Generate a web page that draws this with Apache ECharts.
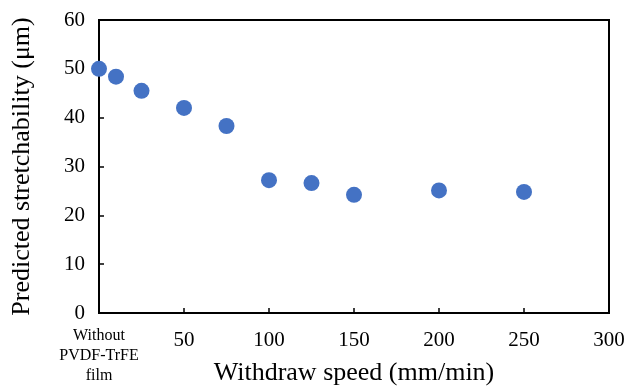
<!DOCTYPE html>
<html><head><meta charset="utf-8">
<script src="https://cdn.jsdelivr.net/npm/echarts@6/dist/echarts.min.js"></script>
<style>html,body{margin:0;padding:0;background:#fff}#c{width:629px;height:389px}</style>
</head><body><div id="c"></div>
<script>
const speeds = [0, 10, 25, 50, 75, 100, 125, 150, 200, 250];
const stretchability = [50.0, 48.4, 45.5, 42.0, 38.3, 27.2, 26.6, 24.2, 25.1, 24.8];
const xTickValues = [0, 50, 100, 150, 200, 250, 300];
const yTickValues = [0, 10, 20, 30, 40, 50, 60];
const zeroLabel = ['Without', 'PVDF-TrFE', 'film'];
const xTitle = 'Withdraw speed (mm/min)';
const yTitle = 'Predicted stretchability (\u03bcm)';

const font = 'Liberation Serif, Times New Roman, serif';
const chart = echarts.init(document.getElementById('c'));
chart.setOption({
  animation: false,
  backgroundColor: '#fff',
  grid: { left: 99, right: 20, top: 20, bottom: 76, show: true, borderColor: '#000', borderWidth: 2, backgroundColor: 'transparent', containLabel: false, outerBoundsMode: 'none' },
  xAxis: {
    type: 'value', min: 0, max: 300, interval: 50,
    name: xTitle, nameLocation: 'middle', nameGap: 47, nameMoveOverlap: false,
    nameTextStyle: { fontFamily: font, fontSize: 26, color: '#000' },
    axisLine: { show: true, lineStyle: { color: '#000', width: 2 } },
    axisTick: { show: true, inside: true, length: 5, lineStyle: { color: '#000', width: 1.5 } },
    splitLine: { show: false },
    axisLabel: {
      margin: 13, color: '#000', fontFamily: font, fontSize: 21,
      formatter: v => v === 0 ? zeroLabel.map(s => '{a|' + s + '}').join('\n') : '{n|' + v + '}',
      rich: {
        a: { fontFamily: font, fontSize: 16, lineHeight: 20, color: '#000' },
        n: { fontFamily: font, fontSize: 21, lineHeight: 22, color: '#000', padding: [6, 0, 0, 0] }
      }
    }
  },
  yAxis: {
    type: 'value', min: 0, max: 60, interval: 10,
    name: yTitle, nameLocation: 'middle', nameGap: 64, nameMoveOverlap: false,
    nameTextStyle: { fontFamily: font, fontSize: 26, color: '#000' },
    axisLine: { show: true, lineStyle: { color: '#000', width: 2 } },
    axisTick: { show: true, inside: true, length: 5, lineStyle: { color: '#000', width: 1.5 } },
    splitLine: { show: false },
    axisLabel: { margin: 14, color: '#000', fontFamily: font, fontSize: 21 }
  },
  series: [{
    type: 'scatter',
    data: speeds.map((s, i) => [s, stretchability[i]]),
    symbol: 'circle', symbolSize: 16,
    itemStyle: { color: '#4472C4', opacity: 1 },
    clip: false
  }]
});
</script></body></html>
